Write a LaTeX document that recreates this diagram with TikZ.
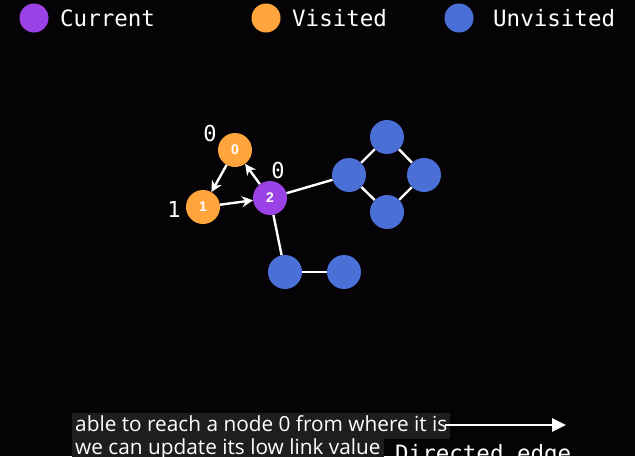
\documentclass[tikz,border=0pt]{standalone}
\usepackage{fontspec}
\setmainfont{Liberation Sans}
\newfontfamily\monof{DejaVu Sans Mono}
\newfontfamily\subf{Open Sans}
\usetikzlibrary{arrows.meta}
\definecolor{bg}{HTML}{060306}
\definecolor{cur}{HTML}{9A42E6}
\definecolor{vis}{HTML}{FFA53C}
\definecolor{unv}{HTML}{4A70D8}
\definecolor{subbg}{HTML}{1E1E1E}
\tikzset{
  vert/.style={circle, minimum size=34pt, inner sep=0pt, text=white, font=\bfseries\fontsize{14}{14}\selectfont},
  legdot/.style={circle, minimum size=29pt, inner sep=0pt},
  legtxt/.style={anchor=west, text=white, font=\monof\fontsize{22.5}{22.5}\selectfont, inner sep=0pt},
  lowlbl/.style={text=white, font=\monof\fontsize{22}{22}\selectfont, inner sep=0pt},
  edge/.style={white, line width=2.4pt},
  dedge/.style={white, line width=2.4pt, -{Stealth[length=11pt,width=11pt]}},
  sub/.style={fill=subbg, text=white, font=\subf\fontsize{20.8}{20.8}\selectfont, inner sep=3pt, anchor=north west, text height=15pt, text depth=4.5pt}
}
\begin{document}
\begin{tikzpicture}[x=1pt,y=-1pt]
\fill[bg] (0,0) rectangle (635,456);
\useasboundingbox (0,0) rectangle (635,456);
\clip (0,0) rectangle (635,456);
% legend
\node[legdot, fill=cur] (lc) at (34,18) {};
\node[legtxt] (lct) at (60,18) {Current};
\node[legdot, fill=vis] (lv) at (266,18) {};
\node[legtxt] (lvt) at (292,18) {Visited};
\node[legdot, fill=unv] (lu) at (459,18) {};
\node[legtxt] (lut) at (493,18) {Unvisited};
% vertices
\node[vert, fill=vis] (n0) at (235,150) {0};
\node[vert, fill=vis] (n1) at (203,207) {1};
\node[vert, fill=cur] (n2) at (270,198) {2};
\node[vert, fill=unv] (a) at (349,175) {};
\node[vert, fill=unv] (b) at (387,137) {};
\node[vert, fill=unv] (c) at (424,175) {};
\node[vert, fill=unv] (d) at (387,212) {};
\node[vert, fill=unv] (e) at (285,272) {};
\node[vert, fill=unv] (f) at (344,272) {};
% edges
\draw[edge] (n2) -- (a);
\draw[edge] (a) -- (b);
\draw[edge] (b) -- (c);
\draw[edge] (c) -- (d);
\draw[edge] (d) -- (a);
\draw[edge] (n2) -- (e);
\draw[edge] (e) -- (f);
\draw[dedge] (n0) -- (n1);
\draw[dedge] (n1) -- (n2);
\draw[dedge] (n2) -- (n0);
% low-link labels
\node[lowlbl] (l0) at (210,133) {0};
\node[lowlbl] (l2) at (278,170) {0};
\node[lowlbl] (l1) at (174,209) {1};
% subtitle and edge legend
\node[sub] (s1) at (72,413) {able to reach a node 0 from where it is};
\node[sub] (s2) at (72,436) {we can update its low link value};
\coordinate (ea) at (445,425);
\coordinate (eb) at (566,425);
\draw[white, line width=2.6pt, -{Triangle[length=14pt,width=13pt]}] (ea) -- (eb);
\node[legtxt, anchor=base west] (de) at (395,461) {Directed edge};
\end{tikzpicture}
\end{document}
